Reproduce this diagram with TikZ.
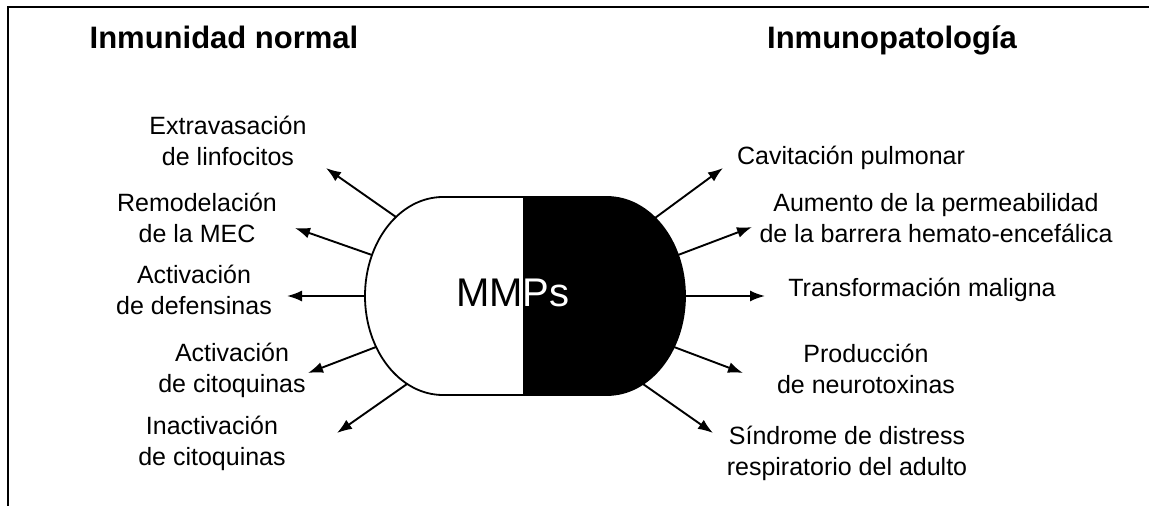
\documentclass[tikz,border=0pt]{standalone}
\usepackage{fontspec}
\setmainfont{Liberation Sans}
\usetikzlibrary{arrows.meta}

\begin{document}
\begin{tikzpicture}[x=1pt,y=-1pt]
      \tikzstyle{every node}=[inner sep=0pt,align=center,font=\fontsize{25}{31}\selectfont]
      \tikzstyle{heading}=[anchor=base,font=\bfseries\fontsize{31}{37}\selectfont]
      \tikzstyle{effect}=[line width=1.9pt,-{Latex[length=15pt,width=11pt]}]
      \useasboundingbox (0,0) rectangle (1149,506);
      \draw[line width=2.2pt] (8,506) -- (8,7) -- (1149,7);

      \node[heading] (normal) at (224,48) {Inmunidad normal};
      \node[heading] (pato) at (892,48) {Inmunopatología};

      \fill[white] (524,197) -- (443,197) arc[start angle=-90,end angle=-270,x radius=78,y radius=99] -- (524,395) -- cycle;
      \fill[black] (524,197) -- (524,395) -- (607,395) arc[start angle=90,end angle=-90,x radius=78,y radius=99] -- cycle;
      \draw[line width=1.8pt] (443,197) -- (607,197) arc[start angle=-90,end angle=90,x radius=78,y radius=99]
            -- (443,395) arc[start angle=90,end angle=270,x radius=78,y radius=99] -- cycle;
      \draw[line width=1.2pt] (524,197) -- (524,395);

      \node (mmps) at (513,293) {\fontsize{40}{40}\selectfont MMPs};
      \begin{scope}
            \clip (524,190) rectangle (700,400);
            \node[text=white] (mmpsw) at (513,293) {\fontsize{40}{40}\selectfont MMPs};
      \end{scope}

      \node (extra) at (228,141) {Extravasación\\de linfocitos};
      \node (remod) at (197,218) {Remodelación\\de la MEC};
      \node (defen) at (194,290) {Activación\\de defensinas};
      \node (actcit) at (232,370) {Activación\\de citoquinas};
      \node (inacit) at (212,443) {Inactivación\\de citoquinas};

      \node (cavit) at (851,158) {Cavitación pulmonar};
      \node (perme) at (936,218) {Aumento de la permeabilidad\\de la barrera hemato-encefálica};
      \node (trans) at (922,290) {Transformación maligna};
      \node (neuro) at (866,369) {Producción\\de neurotoxinas};
      \node (distr) at (847,453) {Síndrome de distress\\respiratorio del adulto};

      \coordinate (l1) at (396,217);
      \coordinate (l2) at (372,255);
      \coordinate (l3) at (365,296);
      \coordinate (l4) at (376,347);
      \coordinate (l5) at (407,384);
      \coordinate (r1) at (655,218);
      \coordinate (r2) at (678,255);
      \coordinate (r3) at (685,296);
      \coordinate (r4) at (674,347);
      \coordinate (r5) at (643,384);

      \coordinate (l1tip) at (326,168);
      \coordinate (l2tip) at (295,228);
      \coordinate (l3tip) at (287,296);
      \coordinate (l4tip) at (308,373);
      \coordinate (l5tip) at (337,433);
      \coordinate (r1tip) at (723,168);
      \coordinate (r2tip) at (752,227);
      \coordinate (r3tip) at (765,296);
      \coordinate (r4tip) at (743,373);
      \coordinate (r5tip) at (713,433);

      \draw[effect] (l1) -- (l1tip);
      \draw[effect] (l2) -- (l2tip);
      \draw[effect] (l3) -- (l3tip);
      \draw[effect] (l4) -- (l4tip);
      \draw[effect] (l5) -- (l5tip);

      \draw[effect] (r1) -- (r1tip);
      \draw[effect] (r2) -- (r2tip);
      \draw[effect] (r3) -- (r3tip);
      \draw[effect] (r4) -- (r4tip);
      \draw[effect] (r5) -- (r5tip);
\end{tikzpicture}
\end{document}
